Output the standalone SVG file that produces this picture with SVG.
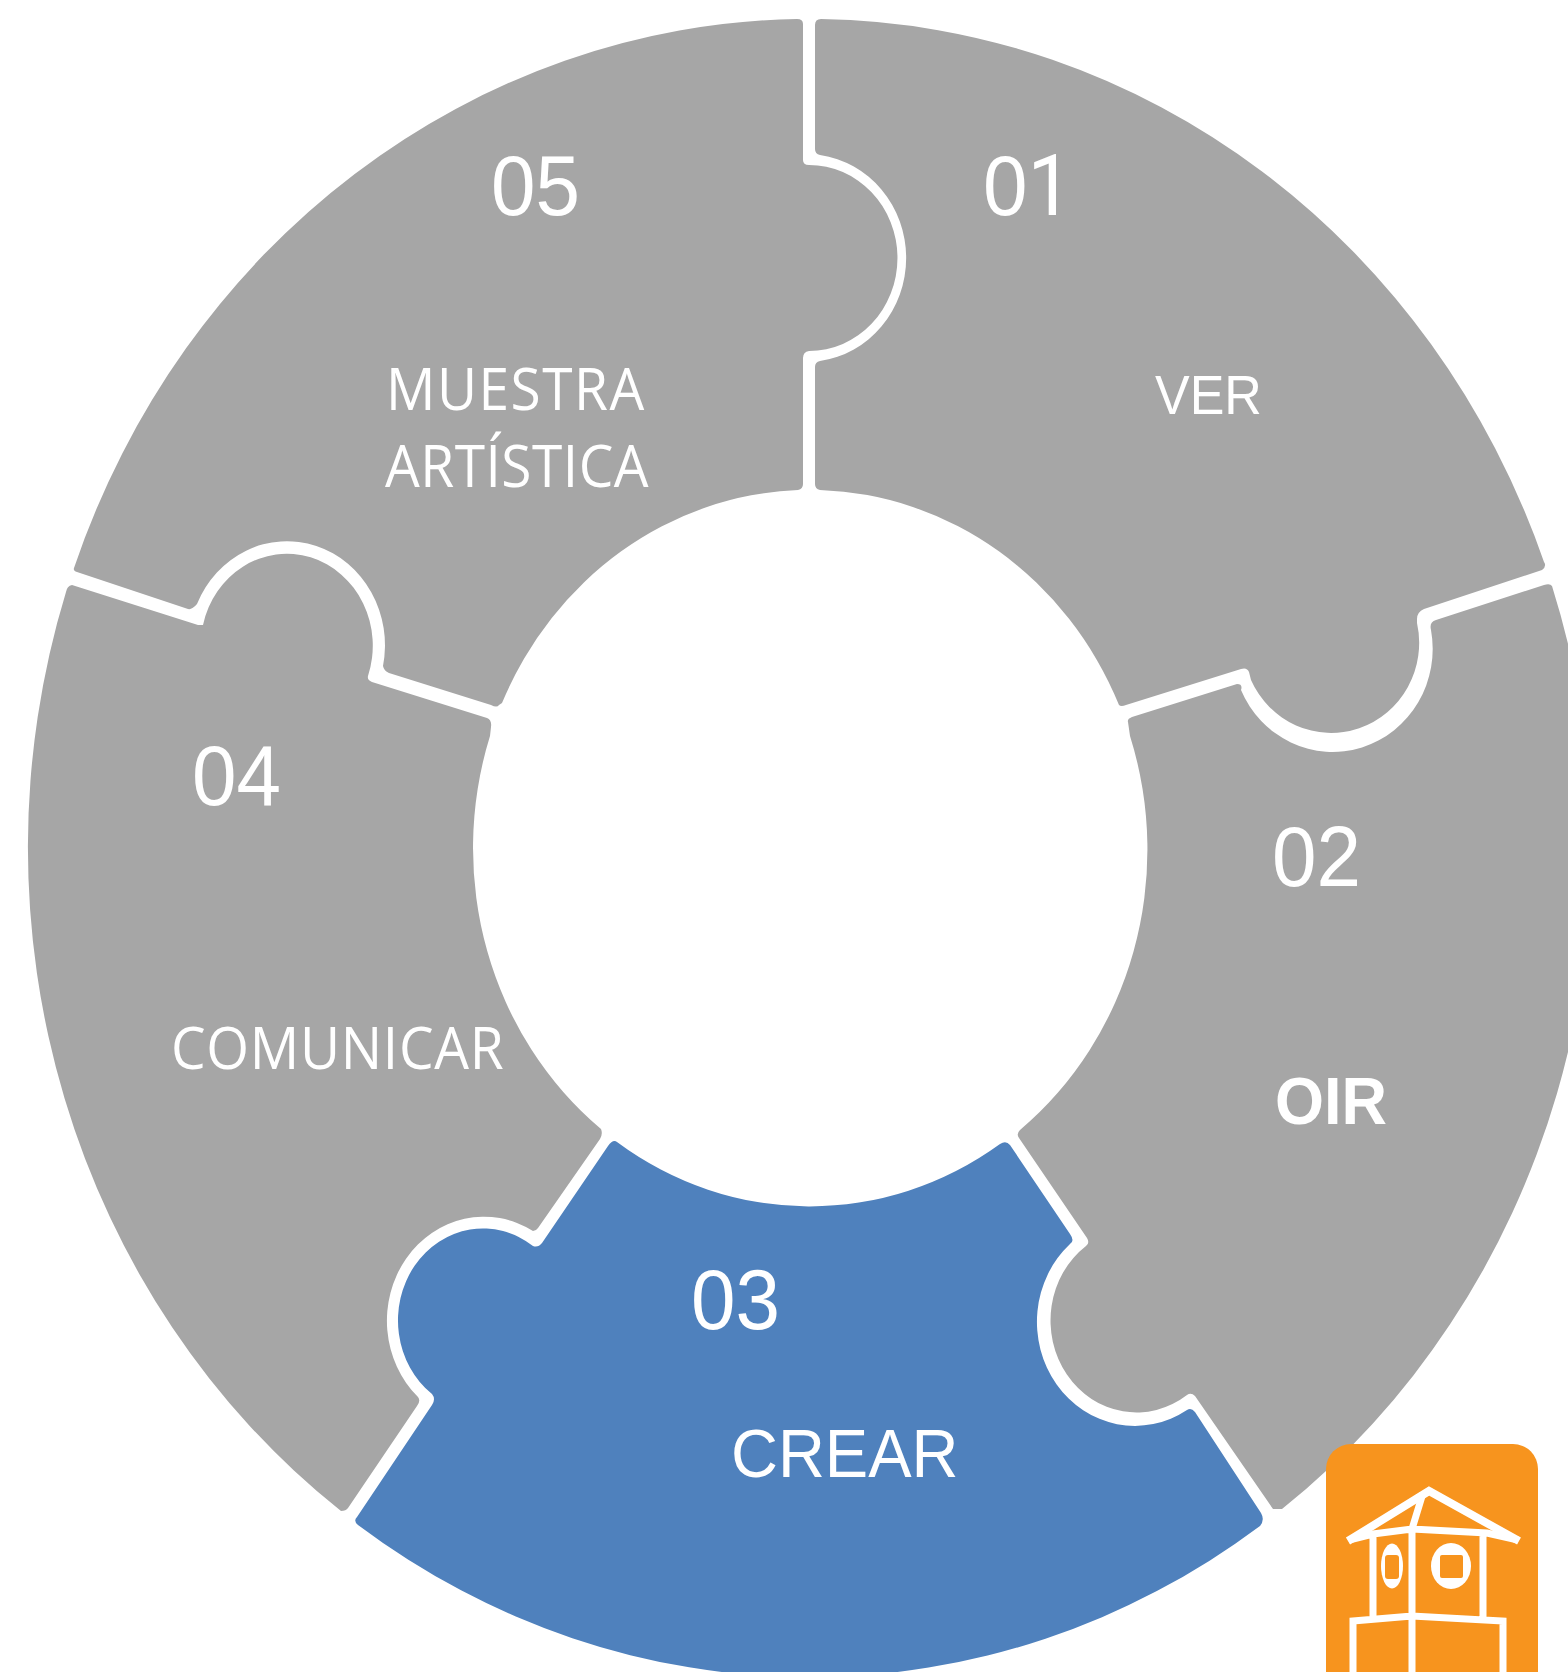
<svg xmlns="http://www.w3.org/2000/svg" width="1568" height="1672" viewBox="0 0 1568 1672">
<style>
.g{fill:#a6a6a6}.b{fill:#4f81bd}
text{fill:#fff;font-family:"Liberation Sans",Arial,sans-serif}
.n{font-size:80px}
.o{font-family:"Open Sans","Liberation Sans",sans-serif;font-size:55px}
.l{stroke:#fff;stroke-width:7;fill:none}
</style>
<rect width="1568" height="1672" fill="#fff"/>
<g id="node-01">
<path class="g" d="M815 25Q815 19 821 19A782 829 0 0 1 1544 562Q1547 566 1542 570L1424 609Q1417 612 1417 619L1417 623A88 90 0 0 1 1251 680L1249 672Q1247 667 1241 669L1126 705Q1121 707 1119 705A337 358 0 0 0 820 490Q815 489 815 484V367Q815 362 820 361A100 104 0 0 0 820 155Q815 154 815 149Z"/>
<text class="n" transform="translate(983 215) scale(1 1.06)">0<tspan font-family="Roboto">1</tspan></text>
<text style="font-size:52px" transform="translate(1155 414) scale(1 1.06)">VER</text>
</g>
<g id="node-02">
<path class="g" d="M1128 722Q1127 719 1132 717L1237 684Q1243 684 1241 690A100 103 0 0 0 1431 630Q1429 622 1436 620L1544 585Q1550 583 1552 586A782 829 0 0 1 1282 1509L1273 1509L1195 1396Q1191 1392 1187 1395A86 92 0 0 1 1086 1246Q1090 1243 1087 1238L1019 1138Q1016 1134 1020 1130A337 358 0 0 0 1130 736Z"/>
<text class="n" transform="translate(1272 886) scale(1 1.06)">02</text>
<text style="font-size:63px;font-weight:700" transform="translate(1275 1124) scale(1 1.06)">OIR</text>
</g>
<g id="node-03">
<path class="b" d="M608 1146Q613 1139 617 1142A337 358 0 0 0 1000 1144Q1006 1140 1010 1145L1070 1234Q1075 1241 1070 1244A98 104 0 0 0 1187 1410Q1191 1407 1195 1412L1261 1513Q1265 1520 1260 1526A782 829 0 0 1 358 1525Q353 1521 357 1517L432 1405Q436 1399 432 1394A85 92 0 0 1 533 1246Q538 1248 542 1243Z"/>
<text class="n" transform="translate(691 1329) scale(1 1.06)">03</text>
<text style="font-size:65px" transform="translate(731 1477) scale(1 1.06)">CREAR</text>
</g>
<g id="node-04">
<path class="g" d="M72 585Q67 586 66 592A782 829 0 0 0 341 1511Q346 1511 348 1508L417 1406Q421 1401 418 1397A97 104 0 0 1 533 1231Q536 1231 538 1228L600 1139Q603 1134 601 1129A337 358 0 0 1 490 736L491 727Q492 720 487 718L372 682Q367 680 368 676A86 92 0 1 0 203 625L198 625Z"/>
<text class="n" transform="translate(192 805) scale(1 1.06)">04</text>
<text class="o" style="letter-spacing:.7px" transform="translate(171 1069) scale(1 1.06)">COMUNICAR</text>
</g>
<g id="node-05">
<path class="g" d="M803 24Q803 19 797 19A782 829 0 0 0 74 568Q73 571 77 572L188 609Q192 610 197 604A98 104 0 0 1 383 666Q384 671 389 673L491 705Q497 708 499 705L502 703A337 358 0 0 1 798 490Q803 489 803 484V358Q803 352 809 351A88 92.5 0 0 0 809 165Q803 165 803 160Z"/>
<text class="n" transform="translate(491 215) scale(1 1.06)">05</text>
<text class="o" style="letter-spacing:1.5px" transform="translate(386 410) scale(1 1.06)">MUESTRA</text>
<text class="o" style="letter-spacing:.5px" transform="translate(385 487) scale(1 1.06)">ARTÍSTICA</text>
</g>
<g id="logo">
<rect x="1326" y="1444" width="212" height="280" rx="25" fill="#f7941e"/>
<path class="l" style="stroke-width:8" d="M1348 1541L1429 1491L1519 1541"/>
<path class="l" d="M1349 1540L1373 1534L1412 1529L1487 1533L1518 1540M1412 1529L1423 1493M1412 1529V1672M1373 1534V1618M1483 1533V1618M1353 1672V1621L1412 1616L1503 1621V1672"/>
<ellipse cx="1392" cy="1566" rx="11" ry="22.5" fill="#fff"/>
<rect x="1385" y="1555" width="14" height="24" rx="3" fill="#f7941e"/>
<ellipse cx="1451" cy="1566" rx="20" ry="23" fill="#fff"/>
<rect x="1440" y="1555" width="23" height="23" rx="2" fill="#f7941e"/>
</g>
<g id="connectors"/>
</svg>
